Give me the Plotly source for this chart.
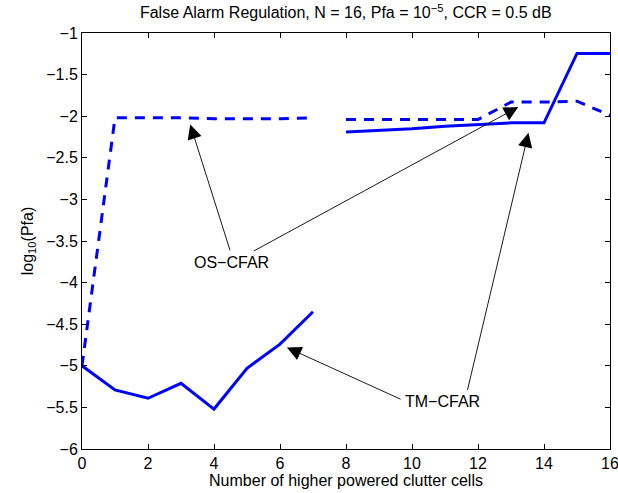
import plotly.graph_objects as go

x_cells = [0, 1, 2, 3, 4, 5, 6, 7, 7.5, 8, 9, 10, 11, 12, 13, 14, 15, 16]
tm_cfar = [-5.0, -5.29, -5.39, -5.21, -5.52, -5.03, -4.74, -4.35, None,
           -2.19, -2.17, -2.15, -2.12, -2.10, -2.08, -2.08, -1.245, -1.245]
os_cfar = [-5.0, -2.02, -2.02, -2.02, -2.03, -2.03, -2.03, -2.02, None,
           -2.04, -2.04, -2.04, -2.04, -2.04, -1.83, -1.83, -1.82, -1.99]

x_ticks = [0, 2, 4, 6, 8, 10, 12, 14, 16]
y_ticks = [-6, -5.5, -5, -4.5, -4, -3.5, -3, -2.5, -2, -1.5, -1]
y_tick_text = ["\u22126", "\u22125.5", "\u22125", "\u22124.5", "\u22124", "\u22123.5",
               "\u22123", "\u22122.5", "\u22122", "\u22121.5", "\u22121"]

blue = "#0000ff"
font = "Liberation Sans, Arial, sans-serif"

fig = go.Figure()
fig.add_trace(go.Scatter(x=x_cells, y=tm_cfar, mode="lines", connectgaps=False,
                         line=dict(color=blue, width=3), showlegend=False))
fig.add_trace(go.Scatter(x=x_cells, y=os_cfar, mode="lines", connectgaps=False,
                         line=dict(color=blue, width=3, dash="10px,8px"), showlegend=False))

def arrow(tx, ty, hx, hy):
    fig.add_annotation(x=hx, y=hy, ax=tx, ay=ty, xref="x", yref="y", axref="x", ayref="y",
                       text="", showarrow=True, arrowhead=2, arrowsize=3.2, arrowwidth=0.9,
                       arrowcolor="black", standoff=0, startstandoff=0)

# OS-CFAR label and arrows
arrow(4.50, -3.63, 3.28, -2.10)
arrow(5.16, -3.63, 13.22, -1.89)
fig.add_annotation(x=4.52, y=-3.757, xref="x", yref="y", text="OS\u2212CFAR", showarrow=False,
                   font=dict(family=font, size=16, color="black"))
# TM-CFAR label and arrows
arrow(9.70, -5.41, 6.21, -4.78)
arrow(11.67, -5.31, 13.53, -2.20)
fig.add_annotation(x=10.91, y=-5.43, xref="x", yref="y", text="TM\u2212CFAR", showarrow=False,
                   font=dict(family=font, size=16, color="black"))

axis_common = dict(showgrid=False, zeroline=False, showline=True, linecolor="black",
                   linewidth=1, mirror="ticks", ticks="inside", ticklen=5, tickcolor="black",
                   automargin=False, ticklabeloverflow="allow",
                   tickfont=dict(family=font, size=16, color="black"))

fig.update_layout(
    width=618, height=493,
    margin=dict(l=82, r=8, t=33, b=44),
    paper_bgcolor="white", plot_bgcolor="white",
    title=dict(text="False Alarm Regulation, N = 16, Pfa = 10<sup>\u22125</sup>, CCR = 0.5 dB",
               x=0.5595, xanchor="center", y=0.974, yanchor="middle",
               font=dict(family=font, size=16, color="black")),
    xaxis=dict(range=[0, 16], tickvals=x_ticks,
               title=dict(text="Number of higher powered clutter cells", standoff=2,
                          font=dict(family=font, size=16, color="black")),
               **axis_common),
    yaxis=dict(range=[-6, -1], tickvals=y_ticks, ticktext=y_tick_text,
               title=dict(text="log<sub>10</sub>(Pfa)", standoff=8,
                          font=dict(family=font, size=16, color="black")),
               **axis_common),
)

fig.write_html("out.html")
